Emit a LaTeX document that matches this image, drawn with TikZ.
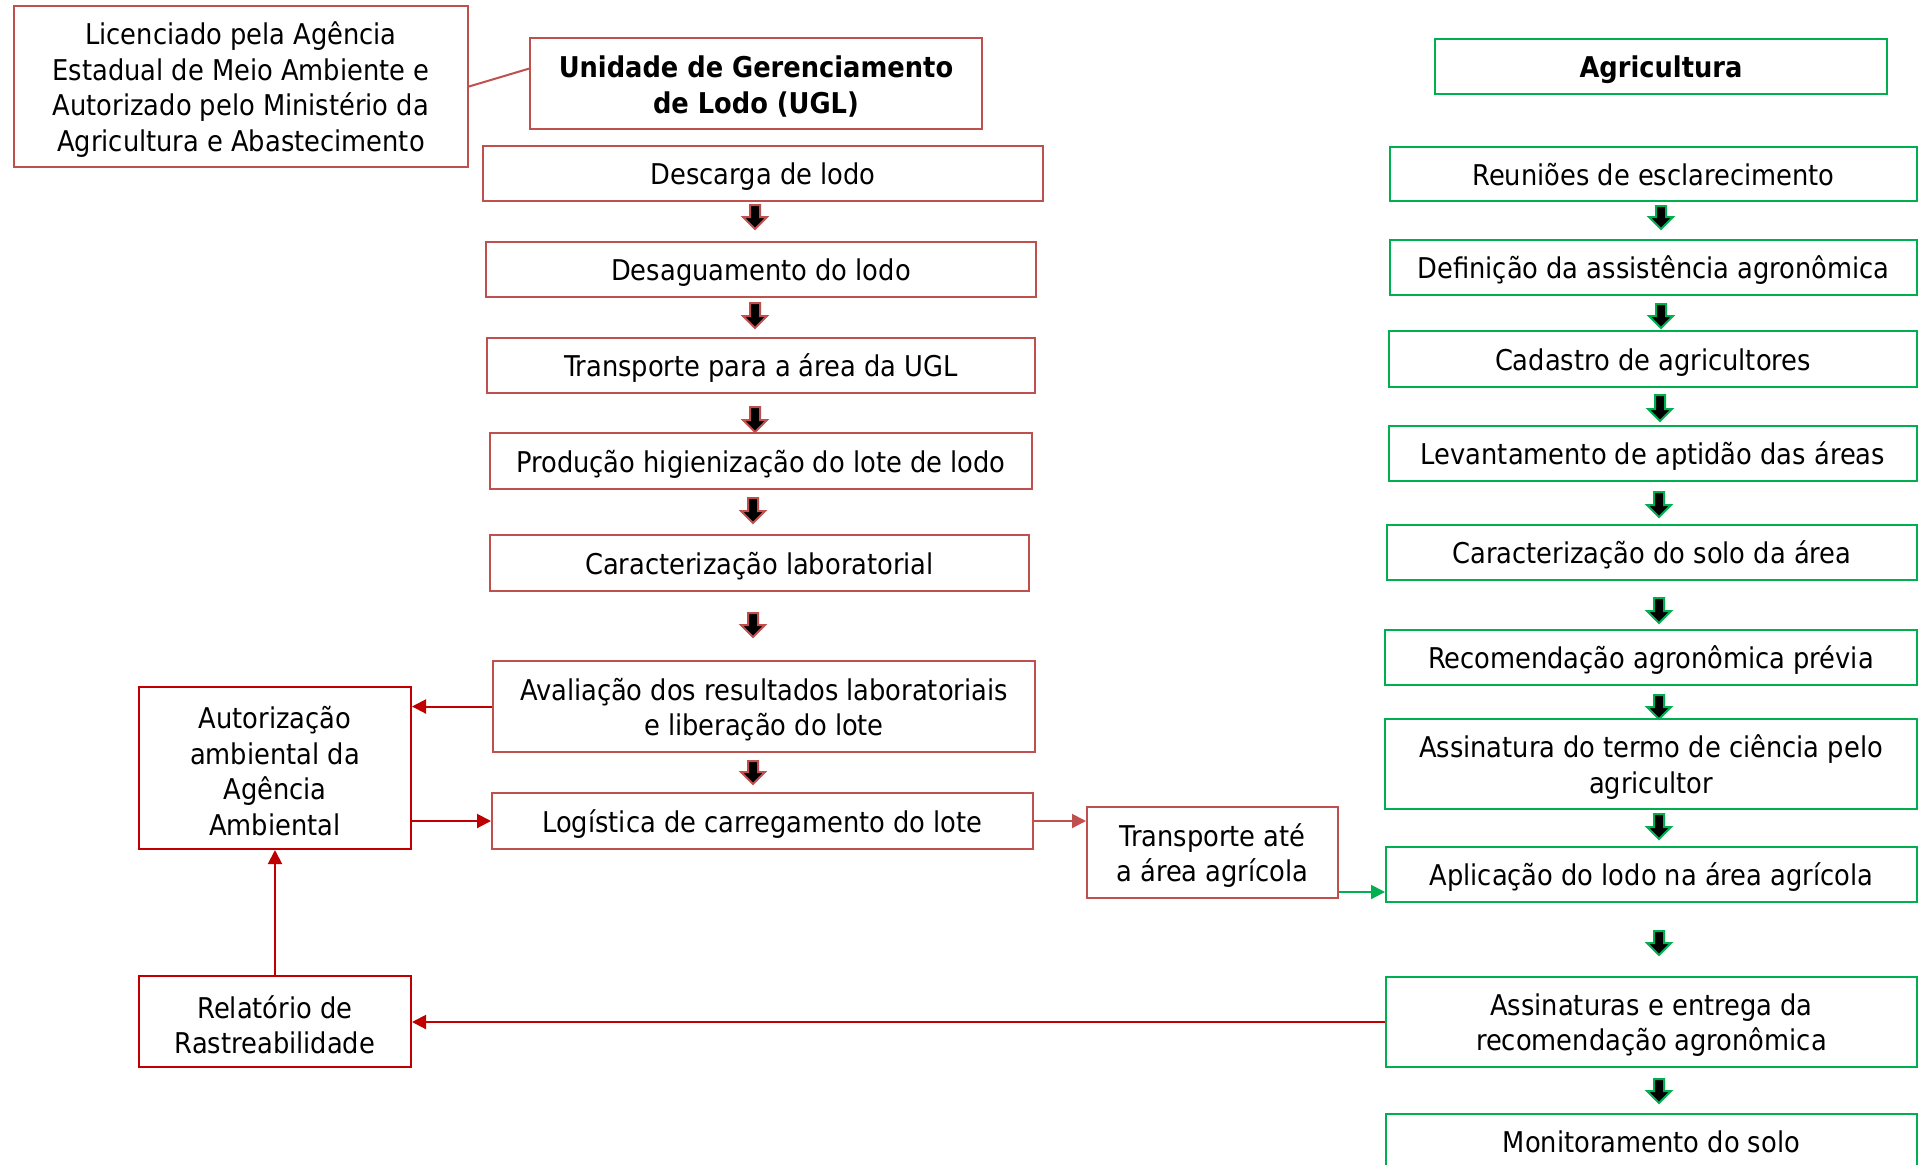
\documentclass[tikz,border=0pt]{standalone}
\usepackage{fontspec}
\setmainfont{DejaVu Sans Condensed}
\usetikzlibrary{arrows.meta,calc}
\definecolor{mred}{HTML}{C0504D}
\definecolor{sred}{HTML}{C00000}
\definecolor{agreen}{HTML}{00B050}
% multi-line box
\newcommand\mybox[7]{\node[#2, minimum width={(#5-#3)*0.5pt}, minimum height={(#6-#4)*0.5pt}] (#1) at ({(#3+#5)/2},{(#4+#6)/2}) {};
  \node[txt, #2, draw=none, fill=none, minimum width=0pt, minimum height=0pt] at ([yshift=-1.6pt]#1.center) {#7};}
% single-line box
\newcommand\onebox[7]{\node[#2, minimum width={(#5-#3)*0.5pt}, minimum height={(#6-#4)*0.5pt}] (#1) at ({(#3+#5)/2},{(#4+#6)/2}) {};
  \node[txt, #2, draw=none, fill=none, minimum width=0pt, minimum height=0pt, anchor=base] at ([yshift=-5.5pt]#1.center) {#7};}
\newcommand\barr[4]{\draw[line width=1pt, draw=#4, fill=black, line join=miter] (#1-5,#2) -- (#1+5,#2) -- (#1+5,#3-12) -- (#1+12,#3-12) -- (#1,#3) -- (#1-12,#3-12) -- (#1-5,#3-12) -- cycle;}
\tikzset{
  base/.style={draw, line width=1pt, fill=white, inner sep=0pt, align=center, font=\fontsize{14.3}{17.75}\selectfont},
  txt/.style={inner sep=0pt, align=center},
  redbox/.style={base, draw=mred},
  sredbox/.style={base, draw=sred},
  grnbox/.style={base, draw=agreen},
  boldtxt/.style={font=\fontsize{14.3}{17.75}\selectfont\bfseries},
  conn/.style={line width=1pt, -{Triangle[length=7pt,width=7pt]}},
}
\begin{document}
\begin{tikzpicture}[x=0.5pt,y=-0.5pt]
\useasboundingbox (0,0) rectangle (1919,1164);
% headers
\mybox{lic}{redbox}{14}{6}{468}{167}{Licenciado pela Agência\\Estadual de Meio Ambiente e\\Autorizado pelo Ministério da\\Agricultura e Abastecimento}
\mybox{ugl}{redbox, boldtxt}{530}{38}{982}{129}{Unidade de Gerenciamento\\de Lodo (UGL)}
\onebox{agr}{grnbox, boldtxt}{1435}{39}{1887}{94}{Agricultura}
% left column
\onebox{desc}{redbox}{483}{146}{1043}{201}{Descarga de lodo}
\onebox{desag}{redbox}{486}{242}{1036}{297}{Desaguamento do lodo}
\onebox{trugl}{redbox}{487}{338}{1035}{393}{Transporte para a área da UGL}
\onebox{prod}{redbox}{490}{433}{1032}{489}{Produção higienização do lote de lodo}
\onebox{carl}{redbox}{490}{535}{1029}{591}{Caracterização laboratorial}
\mybox{aval}{redbox}{493}{661}{1035}{752}{Avaliação dos resultados laboratoriais\\e liberação do lote}
\onebox{logi}{redbox}{492}{793}{1033}{849}{Logística de carregamento do lote}
\mybox{aut}{sredbox}{139}{687}{411}{849}{Autorização\\ambiental da\\Agência\\Ambiental}
\mybox{rel}{sredbox}{139}{976}{411}{1067}{Relatório de\\Rastreabilidade}
\mybox{trans}{redbox}{1087}{807}{1338}{898}{Transporte até\\a área agrícola}
% right column
\onebox{reun}{grnbox}{1390}{147}{1917}{201}{Reuniões de esclarecimento}
\onebox{def}{grnbox}{1390}{240}{1917}{295}{Definição da assistência agronômica}
\onebox{cad}{grnbox}{1389}{331}{1917}{387}{Cadastro de agricultores}
\onebox{lev}{grnbox}{1389}{426}{1917}{481}{Levantamento de aptidão das áreas}
\onebox{cars}{grnbox}{1387}{525}{1917}{580}{Caracterização do solo da área}
\onebox{rec}{grnbox}{1385}{630}{1917}{685}{Recomendação agronômica prévia}
\mybox{asst}{grnbox}{1385}{719}{1917}{809}{Assinatura do termo de ciência pelo\\agricultor}
\onebox{apl}{grnbox}{1386}{847}{1917}{902}{Aplicação do lodo na área agrícola}
\mybox{assn}{grnbox}{1386}{977}{1917}{1067}{Assinaturas e entrega da\\recomendação agronômica}
\onebox{mon}{grnbox}{1386}{1114}{1917}{1169}{Monitoramento do solo}
% block arrows
\barr{755}{205}{229}{mred}
\barr{755}{303}{328}{mred}
\barr{755}{407}{432}{mred}
\barr{753}{498}{523}{mred}
\barr{753}{613}{637}{mred}
\barr{753}{761}{784}{mred}
\barr{1661}{206}{229}{agreen}
\barr{1661}{304}{328}{agreen}
\barr{1660}{395}{421}{agreen}
\barr{1659}{492}{517}{agreen}
\barr{1659}{598}{623}{agreen}
\barr{1659}{695}{719}{agreen}
\barr{1659}{814}{839}{agreen}
\barr{1659}{931}{955}{agreen}
\barr{1659}{1079}{1103}{agreen}
% connectors
\draw[mred, line width=1pt] (lic.east) -- ($(ugl.north west)!0.34!(ugl.south west)$);
\draw[conn, sred] (aval.west) -- (aval.west -| aut.east);
\draw[conn, sred] (logi.west -| aut.east) -- (logi.west);
\draw[conn, sred] (rel.north) -- (aut.south);
\draw[conn, sred] (assn.west) -- (assn.west -| rel.east);
\draw[conn, mred] (logi.east) -- (logi.east -| trans.west);
\coordinate (tg) at ($(trans.south east)+(0,-7)$);
\draw[conn, agreen] (tg) -- (tg -| apl.west);
\end{tikzpicture}
\end{document}
